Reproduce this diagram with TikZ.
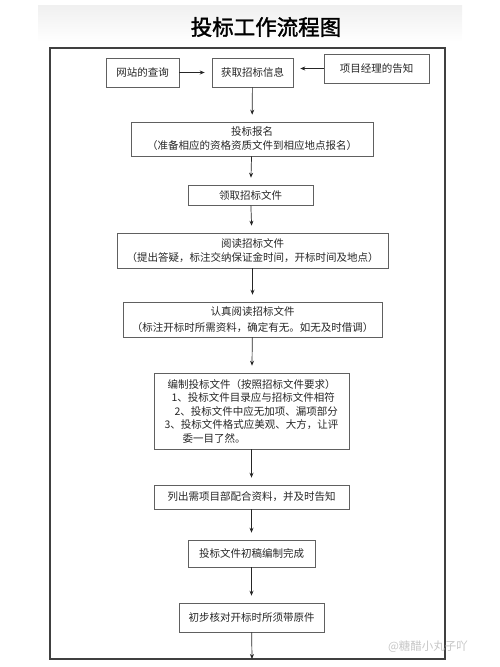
\documentclass[tikz,border=0pt]{standalone}
\usepackage{fontspec}
\setmainfont{Noto Sans CJK SC}
\newfontfamily\titlefont[FakeBold=1.5]{Noto Sans CJK SC}
\usetikzlibrary{arrows.meta}

\tikzset{
  box/.style={draw=gray!75!black,line width=0.6pt,inner sep=0pt,align=center,
    font=\fontsize{10.5}{14}\selectfont,text=black!85},
  flow/.style={-{Stealth[length=5pt,width=4pt]},line width=0.7pt,black!85,shorten >=7pt}
}

\begin{document}
\begin{tikzpicture}[x=1pt,y=-1pt]
\useasboundingbox (0,0) rectangle (500,667);

% header band and title
\shade[top color=gray!12,bottom color=white] (38,5) rectangle (462,42);
\node (title) at (266,27) {\titlefont\fontsize{21.5}{24}\selectfont 投标工作流程图};

% outer frame
\draw[line width=1.1pt,black!75] (50,48) rectangle (445,659);
\coordinate (bottom) at (252,659);

% top row
\node (web) [box,minimum width=73pt,minimum height=29pt] at (142.5,72.5) {网站的查询};
\node (info) [box,minimum width=81pt,minimum height=29pt] at (252.5,72.5) {获取招标信息};
\node (pm) [box,minimum width=105pt,minimum height=29pt] at (376.5,68.5) {项目经理的告知};

% main column
\node (signup) [box,minimum width=242pt,minimum height=34pt] at (252,139)
  {投标报名\\（准备相应的资格资质文件到相应地点报名）};
\node (get) [box,minimum width=125pt,minimum height=20pt] at (250.5,195) {领取招标文件};
\node (read) [box,minimum width=271pt,minimum height=35pt] at (252.5,250.5)
  {阅读招标文件\\（提出答疑，标注交纳保证金时间，开标时间及地点）};
\node (careful) [box,minimum width=259pt,minimum height=35pt] at (252.5,319.5)
  {认真阅读招标文件\\[2pt]（标注开标时所需资料，确定有无。如无及时借调）};
\node (compile) [box,align=left,font=\fontsize{10.5}{13.5}\selectfont,
  minimum width=195pt,minimum height=76pt] at (251.5,411)
  {\hspace*{3pt}编制投标文件（按照招标文件要求）\\
   \hspace*{7pt}1、投标文件目录应与招标文件相符\\
   \hspace*{10pt}2、投标文件中应无加项、漏项部分\\
   3、投标文件格式应美观、大方，让评\\
   \hspace*{18pt}委一目了然。};
\node (list) [box,minimum width=195pt,minimum height=24pt] at (251.5,497)
  {列出需项目部配合资料，并及时告知};
\node (draft) [box,minimum width=127pt,minimum height=27pt] at (251.5,553.5)
  {投标文件初稿编制完成};
\node (check) [box,minimum width=145pt,minimum height=29pt] at (251.5,617.5)
  {初步核对开标时所须带原件};

% connectors
\draw[flow] (web) -- (info);
\draw[flow] (pm.west) -- (pm.west -| info.east);
\draw[flow] (info) -- (signup);
\draw[flow] (signup) -- (get);
\draw[flow] (get) -- (read);
\draw[flow] (read) -- (careful);
\draw[flow] (careful) -- (compile);
\draw[flow] (compile) -- (list);
\draw[flow] (list) -- (draft);
\draw[flow] (draft) -- (check);
\draw[flow,shorten >=0pt] (check) -- (bottom);

% watermark
\node (mark) [text=gray!45,font=\fontsize{11.5}{14}\selectfont] at (428,647) {@糖醋小丸子吖};
\end{tikzpicture}
\end{document}
